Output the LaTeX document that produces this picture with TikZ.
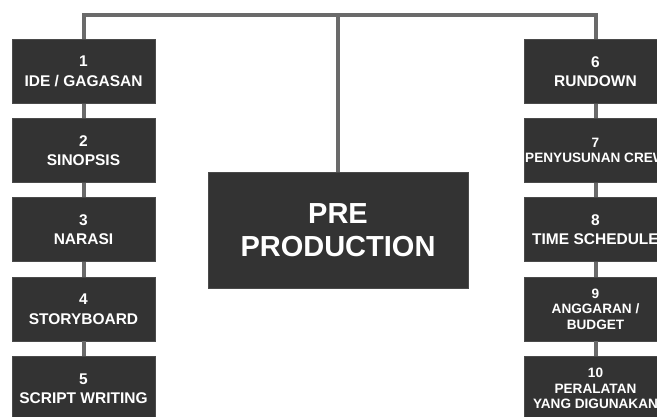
\documentclass[tikz,border=0pt]{standalone}
\usepackage{fontspec}
\setmainfont{Liberation Sans}
\usepackage{tikz}
\usetikzlibrary{calc}

\definecolor{boxgray}{HTML}{333333}
\definecolor{linegray}{HTML}{6A6A6A}

\begin{document}
\begin{tikzpicture}[x=1pt,y=-1pt,
    stepbox/.style={draw=linegray!70!black, line width=0.6pt, fill=boxgray, text=white,
        minimum width=143, minimum height=64, inner sep=0pt, align=center,
        font=\bfseries\fontsize{15.5}{19.5}\selectfont},
    smallbox/.style={stepbox, font=\bfseries\fontsize{13.6}{15.5}\selectfont},
    mainbox/.style={draw=linegray!70!black, line width=0.6pt, fill=boxgray, text=white,
        minimum width=260, minimum height=116, inner sep=0pt, align=center,
        font=\bfseries\fontsize{29}{33}\selectfont},
    link/.style={draw=linegray, line width=4pt}]
        \useasboundingbox (0,0) rectangle (657,416);
        \clip (0,0) rectangle (657,416);

        % top bar
        \coordinate (topleft) at (83.5,15);
        \coordinate (topmid) at (338,15);
        \coordinate (topright) at (595.5,15);

        % left column
        \node[stepbox] (ide) at (83.5,71.5) {1\\IDE / GAGASAN};
        \node[stepbox] (sinopsis) at (83.5,150.5) {2\\SINOPSIS};
        \node[stepbox] (narasi) at (83.5,229.5) {3\\NARASI};
        \node[stepbox] (storyboard) at (83.5,309) {4\\STORYBOARD};
        \node[stepbox] (script) at (83.5,388.5) {5\\SCRIPT WRITING};

        % right column
        \node[stepbox] (rundown) at (595.5,71.5) {6\\RUNDOWN};
        \node[smallbox] (crew) at (595.5,150.5) {7\\PENYUSUNAN CREW};
        \node[stepbox] (schedule) at (595.5,229.5) {8\\TIME SCHEDULE};
        \node[smallbox] (budget) at (595.5,309) {9\\ANGGARAN /\\BUDGET};
        \node[smallbox] (alat) at (595.5,388.5) {10\\PERALATAN\\YANG DIGUNAKAN};

        % centre
        \node[mainbox] (pre) at (338,230) {PRE\\PRODUCTION};

        % connectors
        \draw[link] (ide.north) -- (topleft) -- (topright) -- (rundown.north);
        \draw[link] (pre.north) -- (topmid);
        \draw[link] (ide) -- (sinopsis);
        \draw[link] (sinopsis) -- (narasi);
        \draw[link] (narasi) -- (storyboard);
        \draw[link] (storyboard) -- (script);
        \draw[link] (rundown) -- (crew);
        \draw[link] (crew) -- (schedule);
        \draw[link] (schedule) -- (budget);
        \draw[link] (budget) -- (alat);
\end{tikzpicture}
\end{document}
